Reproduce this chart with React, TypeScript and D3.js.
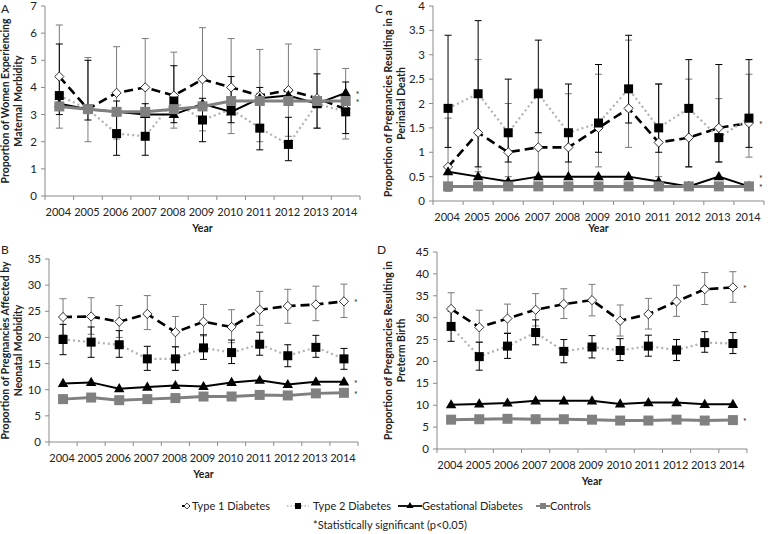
import React from "react";
import * as d3 from "d3";

const years = ["2004", "2005", "2006", "2007", "2008", "2009", "2010", "2011", "2012", "2013", "2014"];
const seriesNames = ["Type 1 Diabetes", "Type 2 Diabetes", "Gestational Diabetes", "Controls"];
const footnote = "*Statistically significant (p<0.05)";

// Panel A – maternal morbidity
const aTicks = [0, 1, 2, 3, 4, 5, 6, 7];
const aT1 = [4.4, 3.2, 3.8, 4.0, 3.7, 4.3, 4.0, 3.7, 3.9, 3.6, 3.2];
const aT1Lo = [2.5, 2.0, 2.1, 2.2, 2.5, 2.4, 2.3, 2.0, 2.2, 2.5, 2.1];
const aT1Hi = [6.3, 5.1, 5.5, 5.8, 5.3, 6.2, 5.8, 5.4, 5.6, 5.4, 4.7];
const aT2 = [3.7, 3.2, 2.3, 2.2, 3.5, 2.8, 3.2, 2.5, 1.9, 3.4, 3.1];
const aT2Lo = [3.0, 2.8, 1.5, 1.5, 2.7, 2.0, 2.7, 1.7, 1.3, 2.5, 2.3];
const aT2Hi = [5.6, 5.0, 3.5, 3.4, 4.8, 3.6, 4.4, 4.0, 2.9, 4.5, 4.2];
const aGest = [3.4, 3.2, 3.1, 3.0, 3.0, 3.4, 3.1, 3.6, 3.7, 3.4, 3.8];
const aCtrl = [3.3, 3.2, 3.1, 3.1, 3.2, 3.3, 3.5, 3.5, 3.5, 3.5, 3.5];
const aStars = [3.8, 3.5];

// Panel B – neonatal morbidity
const bTicks = [0, 5, 10, 15, 20, 25, 30, 35];
const bT1 = [23.9, 24.0, 23.0, 24.5, 21.0, 23.0, 22.0, 25.3, 26.0, 26.3, 26.9];
const bT1Lo = [20.5, 20.6, 20.0, 21.5, 18.2, 20.3, 19.0, 22.3, 22.7, 23.2, 23.8];
const bT1Hi = [27.4, 27.6, 26.1, 28.0, 24.0, 26.3, 25.3, 28.8, 29.2, 29.8, 30.2];
const bT2 = [19.6, 19.1, 18.6, 15.9, 15.9, 18.0, 17.1, 18.7, 16.5, 18.1, 15.9];
const bT2Lo = [16.7, 16.2, 16.2, 13.7, 13.7, 15.8, 15.0, 16.6, 14.4, 16.2, 13.9];
const bT2Hi = [22.5, 22.0, 21.3, 18.3, 18.2, 20.5, 19.5, 21.0, 18.6, 20.4, 17.9];
const bGest = [11.2, 11.4, 10.2, 10.5, 10.8, 10.6, 11.4, 11.8, 11.0, 11.5, 11.5];
const bCtrl = [8.2, 8.5, 8.0, 8.2, 8.4, 8.7, 8.7, 9.0, 8.9, 9.3, 9.4];
const bStars = [26.9, 11.5, 9.3];

// Panel C – perinatal death
const cTicks = [0, 0.5, 1, 1.5, 2, 2.5, 3, 3.5, 4];
const cT1 = [0.7, 1.4, 1.0, 1.1, 1.1, 1.5, 1.9, 1.2, 1.3, 1.5, 1.6];
const cT1Lo = [0.2, 0.6, 0.5, 0.5, 0.5, 0.7, 1.1, 0.5, 0.7, 0.8, 0.9];
const cT1Hi = [1.7, 2.9, 2.0, 2.3, 2.2, 2.6, 3.3, 2.4, 2.5, 2.1, 2.6];
const cT2 = [1.9, 2.2, 1.4, 2.2, 1.4, 1.6, 2.3, 1.5, 1.9, 1.3, 1.7];
const cT2Lo = [1.1, 0.7, 0.8, 1.4, 0.8, 1.0, 1.6, 1.0, 0.7, 0.8, 1.1];
const cT2Hi = [3.4, 3.7, 2.5, 3.3, 2.4, 2.8, 3.4, 2.4, 2.9, 2.8, 2.9];
const cGest = [0.6, 0.5, 0.4, 0.5, 0.5, 0.5, 0.5, 0.4, 0.3, 0.5, 0.3];
const cCtrl = [0.3, 0.3, 0.3, 0.3, 0.3, 0.3, 0.3, 0.3, 0.3, 0.3, 0.3];
const cStars = [1.6, 0.5, 0.3];

// Panel D – preterm birth
const dTicks = [0, 5, 10, 15, 20, 25, 30, 35, 40, 45];
const dT1 = [32.0, 27.8, 29.8, 31.8, 33.1, 34.0, 29.3, 30.8, 33.7, 36.5, 36.9];
const dT1Lo = [28.6, 24.4, 26.5, 28.1, 29.8, 30.4, 25.8, 27.4, 30.3, 33.0, 33.5];
const dT1Hi = [35.7, 31.7, 33.1, 35.5, 36.6, 37.6, 32.9, 34.4, 37.4, 40.3, 40.5];
const dT2 = [28.0, 21.1, 23.5, 26.6, 22.3, 23.3, 22.5, 23.5, 22.6, 24.3, 24.1];
const dT2Lo = [24.6, 18.0, 20.7, 23.8, 19.7, 20.8, 20.2, 21.2, 20.2, 22.1, 21.8];
const dT2Hi = [31.5, 24.4, 26.4, 29.5, 25.0, 25.9, 25.2, 26.0, 25.0, 26.8, 26.6];
const dGest = [10.1, 10.3, 10.5, 11.0, 11.0, 11.0, 10.3, 10.6, 10.6, 10.2, 10.2];
const dCtrl = [6.7, 6.8, 6.9, 6.8, 6.8, 6.7, 6.5, 6.5, 6.7, 6.5, 6.6];
const dStars = [36.9, 6.6];

const FONT = "Lato, 'Open Sans', sans-serif";
const AXIS = "#8a8a8a";
const TXT = "#222";
const T1_BAR = "#7a7a7a";
const CTRL = "#808080";

const diamond = (r: number) => `M0,${-r}L${r},0L0,${r}L${-r},0Z`;
const triPath = d3.symbol().type(d3.symbolTriangle).size(48)() as string;

type PanelProps = {
  letter: string;
  letterX: number;
  letterY: number;
  title: string[];
  titleX: number[];
  x0: number;
  x1: number;
  yB: number;
  yT: number;
  max: number;
  ticks: number[];
  t1: number[]; t1Lo: number[]; t1Hi: number[];
  t2: number[]; t2Lo: number[]; t2Hi: number[];
  gest: number[]; ctrl: number[];
  stars: number[];
  yearY: number;
};

function Panel(p: PanelProps) {
  const x = d3.scaleBand<string>().domain(years).range([p.x0, p.x1]);
  const bw = x.bandwidth();
  const cx = (i: number) => (x(years[i]) as number) + bw / 2;
  const y = d3.scaleLinear().domain([0, p.max]).range([p.yB, p.yT]);
  const line = d3.line<number>().x((_, i) => cx(i)).y((d) => y(d));
  const midY = (p.yB + p.yT) / 2;
  const bars = (lo: number[], hi: number[], color: string) =>
    years.map((_, i) => (
      <g key={i} stroke={color} strokeWidth={1}>
        <line x1={cx(i)} x2={cx(i)} y1={y(lo[i])} y2={y(hi[i])} />
        <line x1={cx(i) - 3.5} x2={cx(i) + 3.5} y1={y(lo[i])} y2={y(lo[i])} />
        <line x1={cx(i) - 3.5} x2={cx(i) + 3.5} y1={y(hi[i])} y2={y(hi[i])} />
      </g>
    ));
  return (
    <g fontFamily={FONT}>
      <text x={p.letterX} y={p.letterY} fontSize={12} fill={TXT}>{p.letter}</text>
      {p.title.map((t, k) => (
        <text key={k} transform={`translate(${p.titleX[k]},${midY}) rotate(-90)`} textAnchor="middle"
          fontSize={10.5} fontWeight="bold" fill={TXT}>{t}</text>
      ))}
      {/* axes */}
      <line x1={p.x0} x2={p.x0} y1={p.yB} y2={p.yT} stroke={AXIS} />
      <line x1={p.x0} x2={p.x1} y1={p.yB} y2={p.yB} stroke={AXIS} />
      {p.ticks.map((t) => (
        <g key={t}>
          <line x1={p.x0 - 4} x2={p.x0} y1={y(t)} y2={y(t)} stroke={AXIS} />
          <text x={p.x0 - 8} y={y(t) + 4} textAnchor="end" fontSize={11.5} fill={TXT}>{String(t)}</text>
        </g>
      ))}
      {years.map((yr, i) => (
        <g key={yr}>
          <line x1={x(yr) as number} x2={x(yr) as number} y1={p.yB} y2={p.yB + 4} stroke={AXIS} />
          <text x={cx(i) - 1} y={p.yB + 20} textAnchor="middle" fontSize={11} fill={TXT}>{yr}</text>
        </g>
      ))}
      <line x1={p.x1} x2={p.x1} y1={p.yB} y2={p.yB + 4} stroke={AXIS} />
      <text x={(p.x0 + p.x1) / 2} y={p.yearY} textAnchor="middle" fontSize={10.5} fontWeight="bold" fill={TXT}>Year</text>

      {/* error bars */}
      {bars(p.t1Lo, p.t1Hi, T1_BAR)}
      {bars(p.t2Lo, p.t2Hi, "#000")}

      {/* Type 1 */}
      <path d={line(p.t1) as string} fill="none" stroke="#000" strokeWidth={2.6} strokeDasharray="9,5" />
      {p.t1.map((v, i) => (
        <path key={i} d={diamond(4.6)} transform={`translate(${cx(i)},${y(v)})`} fill="#fff" stroke="#000" strokeWidth={0.8} />
      ))}
      {/* Type 2 */}
      <path d={line(p.t2) as string} fill="none" stroke="#b0b0b0" strokeWidth={2.2} strokeDasharray="2,3" />
      {p.t2.map((v, i) => (
        <rect key={i} x={cx(i) - 4.5} y={y(v) - 4.5} width={9} height={9} fill="#000" />
      ))}
      {/* Gestational */}
      <path d={line(p.gest) as string} fill="none" stroke="#000" strokeWidth={2} />
      {p.gest.map((v, i) => (
        <path key={i} d={triPath} transform={`translate(${cx(i)},${y(v) + 0.5})`} fill="#000" />
      ))}
      {/* Controls */}
      <path d={line(p.ctrl) as string} fill="none" stroke={CTRL} strokeWidth={3} />
      {p.ctrl.map((v, i) => (
        <rect key={i} x={cx(i) - 5} y={y(v) - 5} width={10} height={10} fill={CTRL} />
      ))}
      {p.stars.map((v, k) => (
        <text key={k} x={cx(years.length - 1) + 10} y={y(v) + 5} fontSize={8.5} fill={TXT}>*</text>
      ))}
    </g>
  );
}

function Legend() {
  const items = [
    { x: 182, tx: 192 },
    { x: 287, tx: 313 },
    { x: 398, tx: 422 },
    { x: 536, tx: 550 },
  ];
  const ly = 506;
  return (
    <g fontFamily={FONT} fontSize={11} fill={TXT}>
      {/* T1 */}
      <line x1={items[0].x} x2={items[0].x + 10} y1={ly} y2={ly} stroke="#000" strokeWidth={2} strokeDasharray="3,2" />
      <path d={diamond(3)} transform={`translate(${items[0].x + 5},${ly})`} fill="#fff" stroke="#000" strokeWidth={0.7} />
      <text x={items[0].tx} y={ly + 4}>{seriesNames[0]}</text>
      {/* T2 */}
      <line x1={items[1].x} x2={items[1].x + 22} y1={ly} y2={ly} stroke="#b0b0b0" strokeWidth={1.5} strokeDasharray="1.5,2" />
      <rect x={items[1].x + 8} y={ly - 3} width={6} height={6} fill="#000" />
      <text x={items[1].tx} y={ly + 4}>{seriesNames[1]}</text>
      {/* Gest */}
      <line x1={items[2].x} x2={items[2].x + 24} y1={ly} y2={ly} stroke="#000" strokeWidth={1.8} />
      <path d={d3.symbol().type(d3.symbolTriangle).size(22)() as string} transform={`translate(${items[2].x + 12},${ly})`} fill="#000" />
      <text x={items[2].tx} y={ly + 4}>{seriesNames[2]}</text>
      {/* Controls */}
      <line x1={items[3].x} x2={items[3].x + 14} y1={ly} y2={ly} stroke={CTRL} strokeWidth={2} />
      <rect x={items[3].x + 4} y={ly - 3} width={6} height={6} fill={CTRL} />
      <text x={items[3].tx} y={ly + 4}>{seriesNames[3]}</text>
      <text x={390} y={529} textAnchor="middle">{footnote}</text>
    </g>
  );
}

export default function App() {
  return (
    <svg width={768} height={534} viewBox="0 0 768 534"
      style={{ position: "absolute", left: 0, top: 0, background: "#fff" }}>
      <rect width={768} height={534} fill="#fff" />
      <Panel letter="A" letterX={1} letterY={13} title={["Proportion of Women Experiencing", "Maternal Morbidity"]}
        titleX={[9, 22]} x0={45} x1={360} yB={196} yT={6} max={7} ticks={aTicks}
        t1={aT1} t1Lo={aT1Lo} t1Hi={aT1Hi} t2={aT2} t2Lo={aT2Lo} t2Hi={aT2Hi} gest={aGest} ctrl={aCtrl}
        stars={aStars} yearY={232} />
      <Panel letter="C" letterX={375} letterY={13} title={["Proportion of Pregnancies Resulting in a", "Perinatal Death"]}
        titleX={[392, 405]} x0={433} x1={764} yB={201} yT={6} max={4} ticks={cTicks}
        t1={cT1} t1Lo={cT1Lo} t1Hi={cT1Hi} t2={cT2} t2Lo={cT2Lo} t2Hi={cT2Hi} gest={cGest} ctrl={cCtrl}
        stars={cStars} yearY={232} />
      <Panel letter="B" letterX={1} letterY={254} title={["Proportion of Pregnancies Affected by", "Neonatal Morbidity"]}
        titleX={[9, 22]} x0={49} x1={358} yB={442} yT={259} max={35} ticks={bTicks}
        t1={bT1} t1Lo={bT1Lo} t1Hi={bT1Hi} t2={bT2} t2Lo={bT2Lo} t2Hi={bT2Hi} gest={bGest} ctrl={bCtrl}
        stars={bStars} yearY={478} />
      <Panel letter="D" letterX={377} letterY={254} title={["Proportion of Pregnancies Resulting in", "Preterm Birth"]}
        titleX={[392, 405]} x0={437} x1={747} yB={449} yT={252} max={45} ticks={dTicks}
        t1={dT1} t1Lo={dT1Lo} t1Hi={dT1Hi} t2={dT2} t2Lo={dT2Lo} t2Hi={dT2Hi} gest={dGest} ctrl={dCtrl}
        stars={dStars} yearY={485} />
      <Legend />
    </svg>
  );
}
